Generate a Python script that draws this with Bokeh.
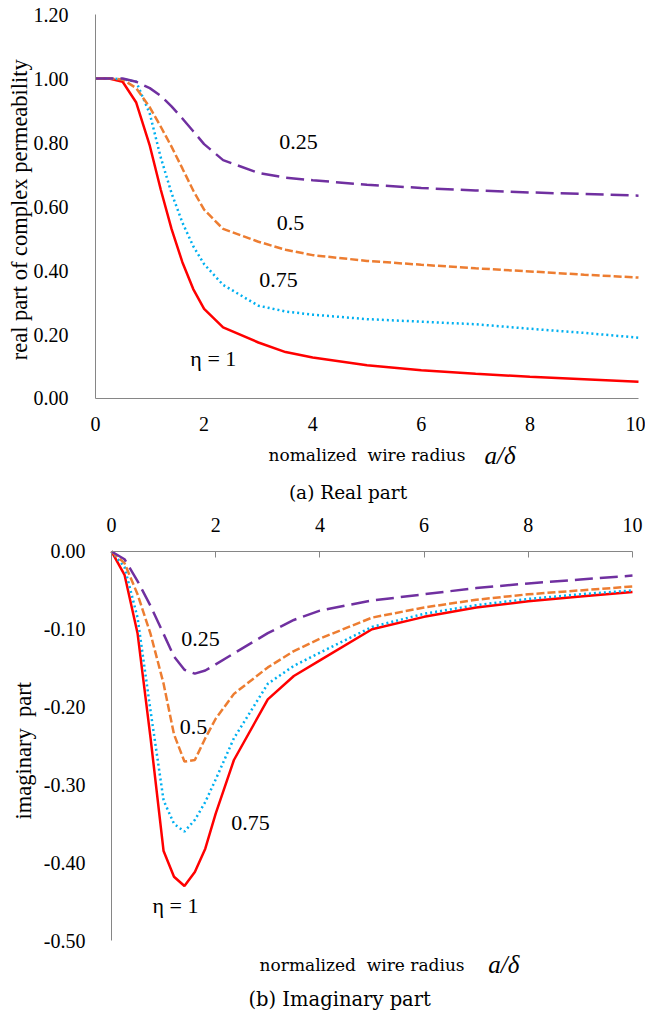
from bokeh.plotting import figure
from bokeh.layouts import column
from bokeh.models import Range1d, Label, NumeralTickFormatter, FixedTicker, LinearAxis
from bokeh.embed import file_html
from bokeh.resources import INLINE
import math

# ---------------- data ----------------
x_ratio = [0, 0.25, 0.5, 0.75, 1.0, 1.2, 1.4, 1.6, 1.8, 2.0, 2.35, 3.0, 3.5, 4.0, 5.0, 6.0, 7.0, 8.0, 9.0, 10.0]

real_eta_1 = [1.0, 1.0, 0.99, 0.925, 0.79, 0.654, 0.53, 0.426, 0.342, 0.28, 0.222, 0.175, 0.145, 0.128, 0.104, 0.088, 0.077, 0.068, 0.060, 0.052]
real_eta_075 = [1.0, 1.0, 0.998, 0.99, 0.89, 0.754, 0.642, 0.55, 0.476, 0.42, 0.355, 0.29, 0.272, 0.262, 0.248, 0.240, 0.232, 0.218, 0.205, 0.190]
real_eta_05 = [1.0, 1.0, 0.997, 0.97, 0.91, 0.85, 0.787, 0.719, 0.65, 0.59, 0.53, 0.49, 0.465, 0.448, 0.430, 0.418, 0.407, 0.397, 0.387, 0.378]
real_eta_025 = [1.0, 1.0, 1.0, 0.99, 0.97, 0.946, 0.913, 0.875, 0.835, 0.795, 0.745, 0.705, 0.69, 0.682, 0.668, 0.658, 0.650, 0.644, 0.639, 0.634]

imag_eta_1 = [0.0, -0.03, -0.105, -0.24, -0.385, -0.418, -0.43, -0.412, -0.382, -0.337, -0.268, -0.19, -0.16, -0.14, -0.100, -0.084, -0.072, -0.064, -0.058, -0.052]
imag_eta_075 = [0.0, -0.02, -0.085, -0.205, -0.32, -0.35, -0.36, -0.345, -0.322, -0.293, -0.24, -0.17, -0.147, -0.13, -0.097, -0.080, -0.069, -0.061, -0.055, -0.050]
imag_eta_05 = [0.0, -0.015, -0.055, -0.106, -0.17, -0.235, -0.27, -0.268, -0.24, -0.215, -0.183, -0.149, -0.128, -0.112, -0.085, -0.072, -0.062, -0.055, -0.050, -0.045]
imag_eta_025 = [0.0, -0.01, -0.038, -0.07, -0.106, -0.135, -0.152, -0.157, -0.153, -0.145, -0.131, -0.105, -0.088, -0.076, -0.063, -0.055, -0.047, -0.041, -0.036, -0.031]

x_ticks = [0, 2, 4, 6, 8, 10]
real_ticks = [0.0, 0.2, 0.4, 0.6, 0.8, 1.0, 1.2]
imag_ticks = [0.0, -0.1, -0.2, -0.3, -0.4, -0.5]

series_labels = ["\u03b7 = 1", "0.75", "0.5", "0.25"]

# ---------------- styles ----------------
C_RED = "#FF0000"
C_CYAN = "#00B0F0"
C_ORANGE = "#ED7D31"
C_PURPLE = "#7030A0"
AX = "#868686"
TIMES = "Liberation Serif, Times New Roman, serif"
CENT = "DejaVu Serif, serif"
NB = "\u00a0"

def make_axis(side_ticks, bounds, standoff, tick_in):
    ax = LinearAxis(fixed_location=0, bounds=bounds, ticker=FixedTicker(ticks=side_ticks))
    ax.axis_line_color = AX
    ax.axis_line_width = 1
    ax.major_tick_out = 0
    ax.major_tick_in = tick_in
    ax.major_tick_line_color = AX if tick_in else None
    ax.minor_tick_line_color = None
    ax.major_label_text_font = TIMES
    ax.major_label_text_font_size = "20px"
    ax.major_label_text_color = "#000000"
    ax.major_label_standoff = standoff
    return ax

def add_text(p, x, y, t, font, size, italic=False, angle=0.0):
    p.add_layout(Label(x=x, y=y, text=t, text_font=font, text_font_size=size,
                       text_font_style="italic" if italic else "normal", angle=angle,
                       text_align="center", text_baseline="middle", text_color="#000000"))

# ================= top: real part =================
p1 = figure(width=645, height=505, output_backend="svg", toolbar_location=None,
            x_range=Range1d(-1.7495, 10.129), y_range=Range1d(-0.3344, 1.2438),
            x_axis_location=None, y_axis_location=None,
            min_border_left=0, min_border_right=0, min_border_top=0, min_border_bottom=0)
p1.outline_line_color = None
p1.grid.grid_line_color = None

xa1 = make_axis(x_ticks, (0, 10), 19, 0)
ya1 = make_axis(real_ticks, (0, 1.2), 27, 0)
ya1.formatter = NumeralTickFormatter(format="0.00")
p1.add_layout(xa1, "below")
p1.add_layout(ya1, "left")

p1.line(x_ratio, real_eta_1, line_color=C_RED, line_width=2.5)
p1.line(x_ratio, real_eta_075, line_color=C_CYAN, line_width=2.5, line_dash="2 3")
p1.line(x_ratio, real_eta_05, line_color=C_ORANGE, line_width=2.5, line_dash="8 3")
p1.line(x_ratio, real_eta_025, line_color=C_PURPLE, line_width=2.5, line_dash="18 7")

for (lx, ly, t) in [(2.17, 0.125, series_labels[0]), (3.37, 0.369, series_labels[1]),
                    (3.59, 0.55, series_labels[2]), (3.74, 0.803, series_labels[3])]:
    add_text(p1, lx, ly, t, TIMES, "22px")

add_text(p1, -1.40, 0.59, "real part of complex permeability", TIMES, "22.5px", angle=math.pi / 2)
add_text(p1, 5.0, -0.178, "nomalized" + NB + " wire radius", CENT, "17px")
add_text(p1, 7.45, -0.178, "a/\u03b4", TIMES, "25px", italic=True)
add_text(p1, 4.65, -0.294, "(a) Real part", CENT, "18.5px")

# ================= bottom: imaginary part =================
p2 = figure(width=645, height=508, output_backend="svg", toolbar_location=None,
            x_range=Range1d(-2.1305, 10.25), y_range=Range1d(-0.5938, 0.0591),
            x_axis_location=None, y_axis_location=None,
            min_border_left=0, min_border_right=0, min_border_top=0, min_border_bottom=0)
p2.outline_line_color = None
p2.grid.grid_line_color = None

xa2 = make_axis(x_ticks, (0, 10), 19, 6)
ya2 = make_axis(imag_ticks, (-0.5, 0), 26, 0)
ya2.formatter = NumeralTickFormatter(format="0.00")
p2.add_layout(xa2, "above")
p2.add_layout(ya2, "left")

p2.line(x_ratio, imag_eta_1, line_color=C_RED, line_width=2.5)
p2.line(x_ratio, imag_eta_075, line_color=C_CYAN, line_width=2.5, line_dash="2 3")
p2.line(x_ratio, imag_eta_05, line_color=C_ORANGE, line_width=2.5, line_dash="8 3")
p2.line(x_ratio, imag_eta_025, line_color=C_PURPLE, line_width=2.5, line_dash="18 7")

for (lx, ly, t) in [(1.23, -0.455, series_labels[0]), (2.67, -0.349, series_labels[1]),
                    (1.575, -0.226, series_labels[2]), (1.71, -0.112, series_labels[3])]:
    add_text(p2, lx, ly, t, TIMES, "22px")

add_text(p2, -1.69, -0.256, "imaginary" + NB + " part", TIMES, "22.5px", angle=math.pi / 2)
add_text(p2, 4.81, -0.531, "normalized" + NB + " wire radius", CENT, "17px")
add_text(p2, 7.53, -0.531, "a/\u03b4", TIMES, "25px", italic=True)
add_text(p2, 4.38, -0.576, "(b) Imaginary part", CENT, "19.5px")

layout = column(p1, p2, spacing=0)
open("out.html", "w").write(file_html(layout, INLINE))
